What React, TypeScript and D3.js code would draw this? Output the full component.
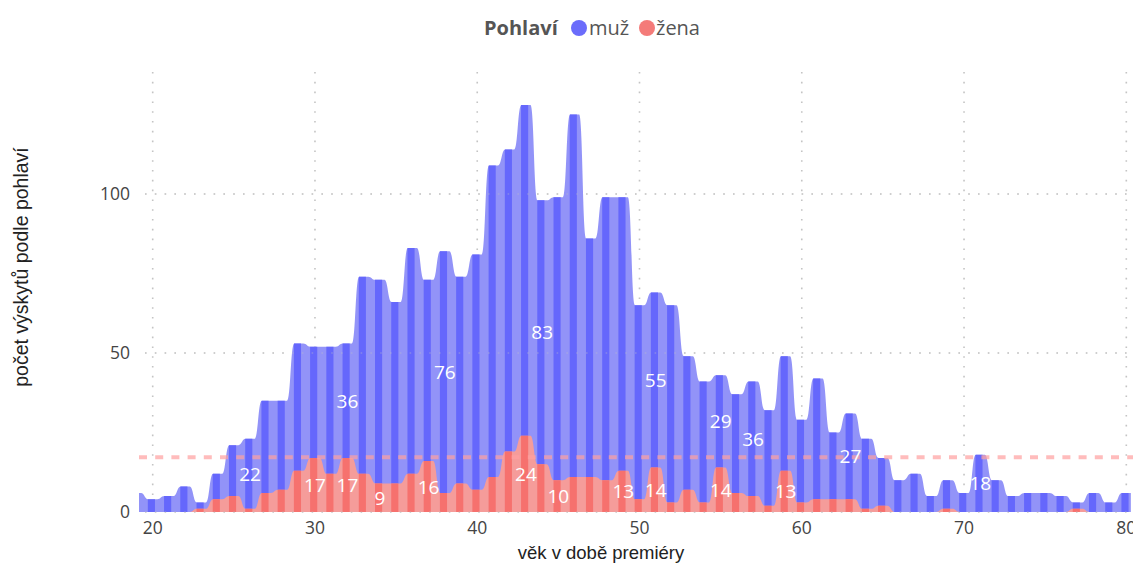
import React from "react";
import * as d3 from "d3";

const ages = [19, 20, 21, 22, 23, 24, 25, 26, 27, 28, 29, 30, 31, 32, 33, 34, 35, 36, 37, 38, 39, 40, 41, 42, 43, 44, 45, 46, 47, 48, 49, 50, 51, 52, 53, 54, 55, 56, 57, 58, 59, 60, 61, 62, 63, 64, 65, 66, 67, 68, 69, 70, 71, 72, 73, 74, 75, 76, 77, 78, 79, 80];
const women = [0, 0, 0, 0, 1, 4, 5, 1, 6, 7, 13, 17, 12, 17, 12, 9, 9, 12, 16, 6, 9, 7, 11, 19, 24, 15, 10, 11, 11, 10, 13, 4, 14, 3, 7, 3, 14, 6, 5, 2, 13, 3, 4, 4, 4, 1, 2, 0, 0, 0, 1, 0, 0, 0, 0, 0, 0, 0, 1, 0, 0, 0];
const men = [6, 4, 5, 8, 2, 8, 16, 22, 29, 28, 40, 35, 40, 36, 62, 64, 57, 71, 57, 76, 65, 74, 98, 95, 104, 83, 89, 114, 75, 89, 86, 61, 55, 62, 42, 38, 29, 31, 36, 30, 36, 26, 38, 21, 27, 22, 15, 10, 12, 5, 9, 6, 18, 10, 5, 6, 6, 5, 2, 6, 3, 6];
const menLabelAges = [26, 32, 38, 44, 51, 55, 57, 63, 71];
const womenLabelAges = [30, 32, 34, 37, 43, 45, 49, 51, 55, 59];
const xTicks = [20, 30, 40, 50, 60, 70, 80];
const yTicks = [0, 50, 100];
const meanLine = 17.2;
const legendTitle = "Pohlaví";
const seriesNames = ["muž", "žena"];
const xTitle = "věk v době premiéry";
const yTitle = "počet výskytů podle pohlaví";

const W = 1133, H = 563;
const plotLeft = 139, plotRight = 1133, plotTop = 72, plotBottom = 512;

const BLUE_DARK = "#6567fc";
const BLUE_LIGHT = "#8e90f8";
const RED_DARK = "#f6716e";
const RED_LIGHT = "#f59c9a";

export default function App() {
  const x = d3.scaleLinear().domain([20, 80]).range([152.7, 1126.3]);
  const y = d3.scaleLinear().domain([0, 100]).range([512, 194]);
  const d = 0.22;

  const pts = (vals: number[]) => {
    const out: [number, number][] = [];
    ages.forEach((a, i) => {
      out.push([a - 0.5 + d, vals[i]]);
      out.push([a + 0.5 - d, vals[i]]);
    });
    return out;
  };
  const totals = men.map((m, i) => m + women[i]);
  const area = d3
    .area<[number, number]>()
    .x((p) => x(p[0]))
    .y0(y(0))
    .y1((p) => y(p[1]))
    .curve(d3.curveBumpX);
  const blueD = area(pts(totals)) || "";
  const redD = area(pts(women)) || "";

  const stripeRects = ages.map((a) => (
    <rect key={a} x={x(a - 0.3)} y={plotTop - 10} width={x(a + 0.14) - x(a - 0.3)} height={plotBottom - plotTop + 12} />
  ));

  const font = '"Open Sans", verdana, arial, sans-serif';

  return (
    <svg width={W} height={H} style={{ position: "absolute", left: 0, top: 0, background: "#fff" }} fontFamily={font}>
      <defs>
        <clipPath id="plot">
          <rect x={plotLeft} y={plotTop - 10} width={plotRight - plotLeft} height={plotBottom - plotTop + 10} />
        </clipPath>
        <clipPath id="stripes">{stripeRects}</clipPath>
      </defs>
      {/* gridlines */}
      <g stroke="#c4c4c4" strokeWidth={1.6} strokeDasharray="1.6 8.2" fill="none">
        {xTicks.map((t) => (
          <line key={"gx" + t} x1={x(t)} x2={x(t)} y1={plotTop} y2={plotBottom} />
        ))}
        {yTicks.map((t) => (
          <line key={"gy" + t} x1={145} x2={plotRight} y1={y(t)} y2={y(t)} />
        ))}
      </g>
      <g clipPath="url(#plot)">
        <path d={blueD} fill={BLUE_LIGHT} opacity={0.97} />
        <g clipPath="url(#stripes)">
          <path d={blueD} fill={BLUE_DARK} />
        </g>
        <path d={redD} fill={RED_LIGHT} />
        <g clipPath="url(#stripes)">
          <path d={redD} fill={RED_DARK} />
        </g>
        <g stroke="#c4c4c4" strokeWidth={1.6} strokeDasharray="1.6 8.2" fill="none" opacity={0.35}>
          {yTicks.map((t) => (
            <line key={"gy2" + t} x1={145} x2={plotRight} y1={y(t)} y2={y(t)} />
          ))}
        </g>
        <line x1={plotLeft} x2={plotRight} y1={y(meanLine)} y2={y(meanLine)} stroke="#ff9f9f" strokeOpacity={0.7} strokeWidth={4} strokeDasharray="8 8.2" />
      </g>
      {/* labels */}
      <g fill="#fff" fontSize={19} textAnchor="middle" dominantBaseline="central">
        {menLabelAges.map((a) => {
          const i = ages.indexOf(a);
          return (
            <text key={"ml" + a} x={x(a)} y={y(women[i] + men[i] / 2)}>
              {men[i]}
            </text>
          );
        })}
        {womenLabelAges.map((a) => {
          const i = ages.indexOf(a);
          return (
            <text key={"wl" + a} x={x(a)} y={y(women[i] / 2)}>
              {women[i]}
            </text>
          );
        })}
      </g>
      {/* axes tick labels */}
      <g fill="#444" fontSize={17.5}>
        {xTicks.map((t) => (
          <text key={"xt" + t} x={x(t)} y={534} textAnchor="middle">
            {t}
          </text>
        ))}
        {yTicks.map((t) => (
          <text key={"yt" + t} x={130} y={y(t)} dy="0.35em" textAnchor="end">
            {t}
          </text>
        ))}
      </g>
      <text x={601} y={559} textAnchor="middle" fontSize={18.5} fill="#222" fontFamily='"Liberation Sans", Arial, sans-serif'>
        {xTitle}
      </text>
      <text transform={`translate(28,267) rotate(-90)`} textAnchor="middle" fontSize={19.5} fill="#222" fontFamily='"Liberation Sans", Arial, sans-serif'>
        {yTitle}
      </text>
      {/* legend */}
      <g fontSize={20} fill="#555">
        <text x={484} y={35} fontWeight="bold">{legendTitle}</text>
        <circle cx={579} cy={28} r={8} fill="#6b6cfb" />
        <text x={589} y={35}>{seriesNames[0]}</text>
        <circle cx={647} cy={28} r={8} fill="#f47b79" />
        <text x={656} y={35}>{seriesNames[1]}</text>
      </g>
    </svg>
  );
}
